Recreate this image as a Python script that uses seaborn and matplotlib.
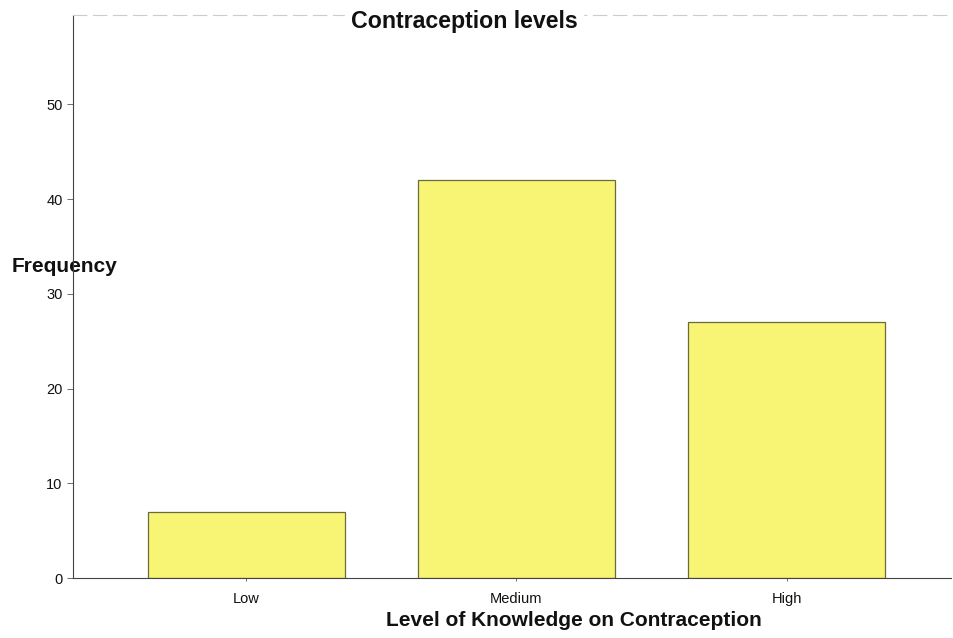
import numpy as np
import pandas as pd
import matplotlib
matplotlib.use("Agg")
import matplotlib.pyplot as plt
import seaborn as sns

# values
levels = ["Low", "Medium", "High"]
counts = [7, 42, 27]
y_ticks = [0, 10, 20, 30, 40, 50]

df = pd.DataFrame({"level": levels, "count": counts})

sns.set_style("white")
plt.rcParams["font.family"] = ["Liberation Sans", "DejaVu Sans"]

fig = plt.figure(figsize=(9.54, 6.38), dpi=100)
ax = fig.add_axes([0.0765, 0.094, 0.92, 0.882])

sns.barplot(
    data=df, x="level", y="count", order=levels,
    color="#f9f574", saturation=1, width=0.73,
    edgecolor="#6b6a3a", linewidth=0.9, ax=ax,
)

ax.set_xlim(-0.641, 2.607)
ax.set_ylim(0, 59.4)
ax.set_yticks(y_ticks)
ax.tick_params(axis="both", labelsize=10.5, length=4, width=0.6, color="#555555",
               direction="out", left=True, bottom=True, labelcolor="#111111")
ax.tick_params(axis="x", length=2, pad=8)

for side in ["left", "bottom"]:
    ax.spines[side].set_color("#444444")
    ax.spines[side].set_linewidth(0.8)
ax.spines["top"].set_color("#c8ccd4")
ax.spines["top"].set_linewidth(0.8)
ax.spines["top"].set_linestyle((0, (12, 6)))
ax.spines["right"].set_visible(False)

ax.set_title("Contraception levels", fontsize=16.7, fontweight="bold", pad=-9,
             backgroundcolor="white", color="#111111", x=0.446)
ax.set_xlabel("Level of Knowledge on Contraception", fontsize=15, fontweight="bold",
              color="#111111")
ax.xaxis.set_label_coords(0.571, -0.058)
ax.set_ylabel("Frequency", fontsize=15, fontweight="bold", rotation=0,
              ha="center", va="center", color="#111111")
ax.yaxis.set_label_coords(-0.01, 0.553)

fig.savefig("out.png", dpi=100)
